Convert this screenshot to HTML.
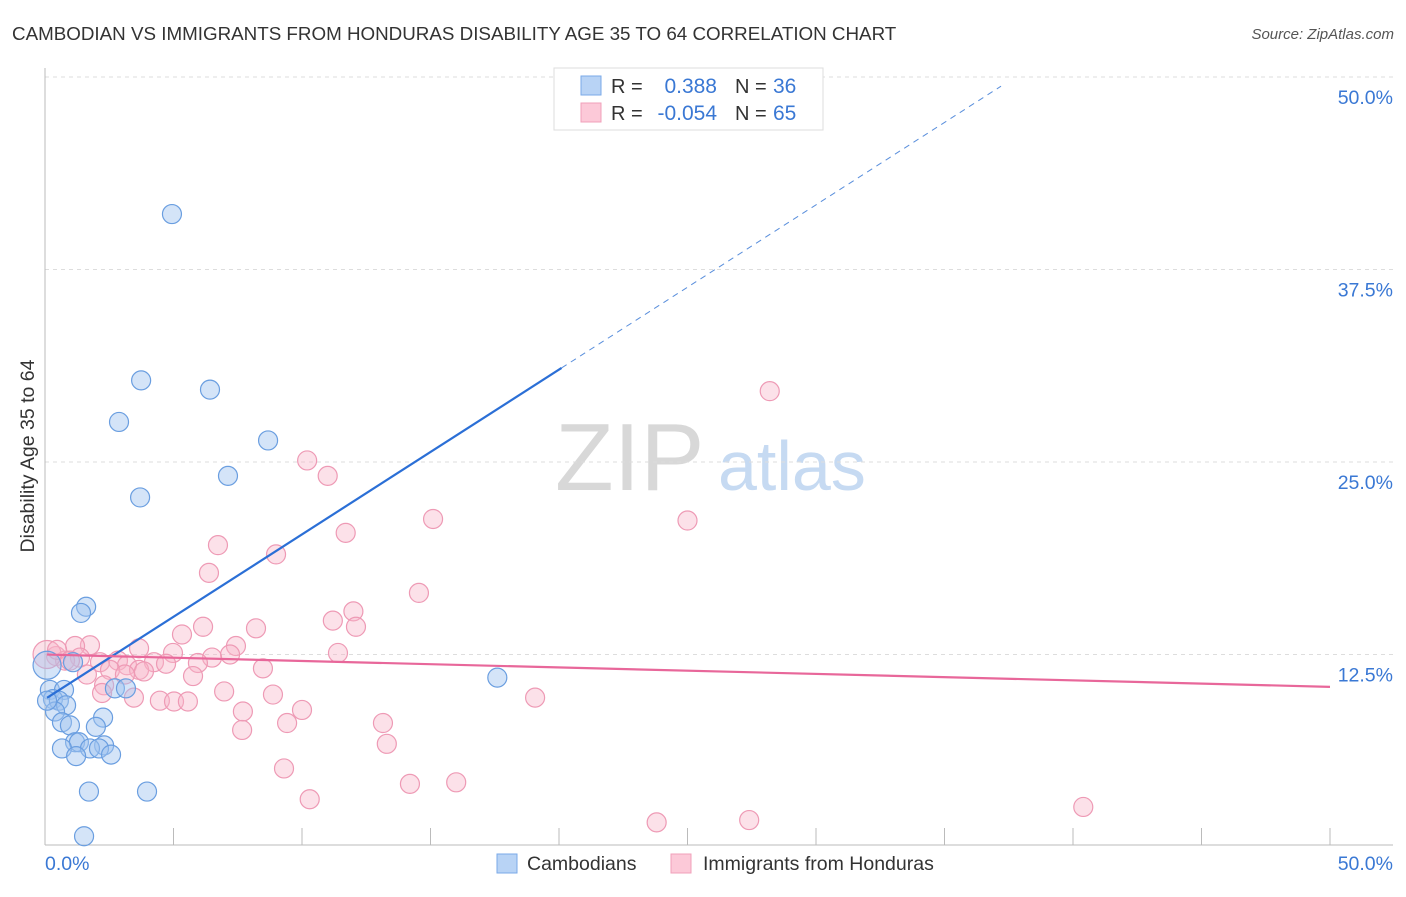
<!DOCTYPE html>
<html><head><meta charset="utf-8"><style>
body{margin:0;background:#fff;font-family:"Liberation Sans",sans-serif}
svg text{font-family:"Liberation Sans",sans-serif}
</style></head><body>
<svg id="c" width="1406" height="892">
<text x="12" y="40" font-size="18.8" fill="#333">CAMBODIAN VS IMMIGRANTS FROM HONDURAS DISABILITY AGE 35 TO 64 CORRELATION CHART</text>
<text x="1394" y="39" font-size="15" fill="#555" font-style="italic" text-anchor="end">Source: ZipAtlas.com</text>
<text x="555" y="490" font-size="96" fill="#d8d8d8" font-family="Liberation Serif">ZIP</text>
<text x="718" y="490" font-size="70" fill="#c6daf2">atlas</text>
<text transform="translate(34,456) rotate(-90)" font-size="19.5" fill="#333" text-anchor="middle">Disability Age 35 to 64</text>
<g id="grid"></g><g id="pts"></g><g id="lines"></g>
<g>
<rect x="554" y="68" width="269" height="62" fill="#fff" stroke="#ddd"/>
<rect x="581" y="76" width="20" height="19" fill="#b8d3f5" stroke="#7aa9e8"/>
<rect x="581" y="103" width="20" height="19" fill="#fcc9d8" stroke="#f0a0ba"/>
<text x="611" y="93" font-size="20" fill="#333">R =</text>
<text x="717" y="93" font-size="21" fill="#3a78d4" text-anchor="end">0.388</text>
<text x="735" y="93" font-size="20" fill="#333">N =</text>
<text x="773" y="93" font-size="21" fill="#3a78d4">36</text>
<text x="611" y="120" font-size="20" fill="#333">R =</text>
<text x="717" y="120" font-size="21" fill="#3a78d4" text-anchor="end">-0.054</text>
<text x="735" y="120" font-size="20" fill="#333">N =</text>
<text x="773" y="120" font-size="21" fill="#3a78d4">65</text>
</g>
<g>
<rect x="497" y="854" width="20" height="19" fill="#b8d3f5" stroke="#7aa9e8"/>
<text x="527" y="870" font-size="19.5" fill="#333">Cambodians</text>
<rect x="671" y="854" width="20" height="19" fill="#fcc9d8" stroke="#f0a0ba"/>
<text x="703" y="870" font-size="19.5" fill="#333">Immigrants from Honduras</text>
</g>
</svg>
<script>
const blueX=[4.94,3.74,6.42,2.88,8.68,7.12,3.70,1.60,1.40,1.09,0.19,0.74,2.72,3.15,0.31,0.54,0.82,0.39,2.26,0.66,0.97,1.98,1.17,1.32,0.66,2.30,1.75,2.10,1.21,2.57,1.71,3.97,1.52,17.6,0.08,0.08];
const blueY=[41.1,30.3,29.7,27.6,26.4,24.1,22.7,15.6,15.2,12.0,10.2,10.2,10.3,10.3,9.6,9.5,9.2,8.8,8.4,8.1,7.9,7.8,6.8,6.8,6.4,6.6,6.4,6.4,5.9,6.0,3.6,3.6,0.7,11.0,11.8,9.5];
const pinkX=[28.2,10.2,11.0,15.1,25.0,11.7,6.73,8.99,6.38,14.55,12.0,11.2,12.1,6.15,8.21,5.33,1.75,1.17,7.43,3.66,11.4,7.20,4.98,0.43,1.36,0.78,2.84,6.50,4.24,2.14,4.71,5.95,3.19,3.66,3.85,8.48,2.53,1.63,3.11,5.76,2.30,6.97,8.87,2.22,3.46,19.07,4.47,5.02,5.56,10.0,7.7,13.15,9.42,7.67,13.3,9.3,14.2,16.0,10.3,40.4,27.4,23.8,0.08,0.47,0.97];
const pinkY=[29.6,25.1,24.1,21.3,21.2,20.4,19.6,19.0,17.8,16.5,15.3,14.7,14.3,14.3,14.2,13.8,13.1,13.05,13.05,12.9,12.6,12.5,12.6,12.4,12.3,12.1,12.1,12.3,12.0,12.0,11.9,11.95,11.8,11.5,11.4,11.6,11.5,11.2,11.2,11.1,10.5,10.1,9.9,10.0,9.7,9.7,9.5,9.45,9.45,8.9,8.8,8.05,8.05,7.6,6.7,5.1,4.1,4.2,3.1,2.6,1.75,1.6,12.5,12.8,12.1];
const yTicks=[12.5,25.0,37.5,50.0];
const blueFit=[9.6,1.07];
const pinkFit=[12.5,-0.042];
const NS="http://www.w3.org/2000/svg";
const sx=v=>45+v/50*1285, sy=v=>847-v/12.5*192.5;
function mk(t,a,p){const e=document.createElementNS(NS,t);for(const k in a)e.setAttribute(k,a[k]);p.appendChild(e);return e;}
const g=document.getElementById('grid');
yTicks.forEach(t=>{
 const l=mk('line',{x1:45,x2:1393,y1:sy(t),y2:sy(t),stroke:'#ddd','stroke-dasharray':'4,4'},g);
 
 
 const tx=mk('text',{x:1393,y:sy(t)+27,'font-size':19.5,fill:'#3a78d4','text-anchor':'end'},g);
 tx.textContent=t.toFixed(1)+'%';
 
 
});
mk('line',{x1:45,x2:45,y1:68,y2:845,stroke:'#bbb'},g);
mk('line',{x1:45,x2:1393,y1:845,y2:845,stroke:'#bbb'},g);
for(let i=0;i<=10;i++){const x=sx(i*5);mk('line',{x1:x,x2:x,y1:828,y2:845,stroke:'#bbb'},g);}
let a=mk('text',{x:45,y:870,'font-size':19.5,fill:'#3a78d4'},g);a.textContent='0.0%';


a=mk('text',{x:1393,y:870,'font-size':19.5,fill:'#3a78d4','text-anchor':'end'},g);a.textContent='50.0%';


const p=document.getElementById('pts');
pinkX.forEach((x,i)=>{
 const c=mk('circle',{cx:sx(x),cy:sy(pinkY[i]),r:(x<0.2?14:9.5),fill:'rgba(248,180,200,0.4)',stroke:'#ee9ab5','stroke-width':1.2},p);
 
 
});
blueX.forEach((x,i)=>{
 const c=mk('circle',{cx:sx(x),cy:sy(blueY[i]),r:(x<0.2&&blueY[i]>11?14:9.5),fill:'rgba(160,196,240,0.45)',stroke:'#6a9ee0','stroke-width':1.2},p);
 
 
});
const L=document.getElementById('lines');
const bf=x=>blueFit[0]+blueFit[1]*x, pf=x=>pinkFit[0]+pinkFit[1]*x;
let l=mk('line',{x1:sx(0.08),y1:sy(bf(0.08)),x2:sx(20.1),y2:sy(bf(20.1)),stroke:'#2b6fd6','stroke-width':2.2},L);


l=mk('line',{x1:sx(20.1),y1:sy(bf(20.1)),x2:sx(37.2),y2:sy(bf(37.2)),stroke:'#5a8fdc','stroke-width':1,'stroke-dasharray':'6,5'},L);


l=mk('line',{x1:sx(0.08),y1:sy(pf(0.08)),x2:sx(50),y2:sy(pf(50)),stroke:'#e8679a','stroke-width':2.2},L);


</script>
</body></html>
